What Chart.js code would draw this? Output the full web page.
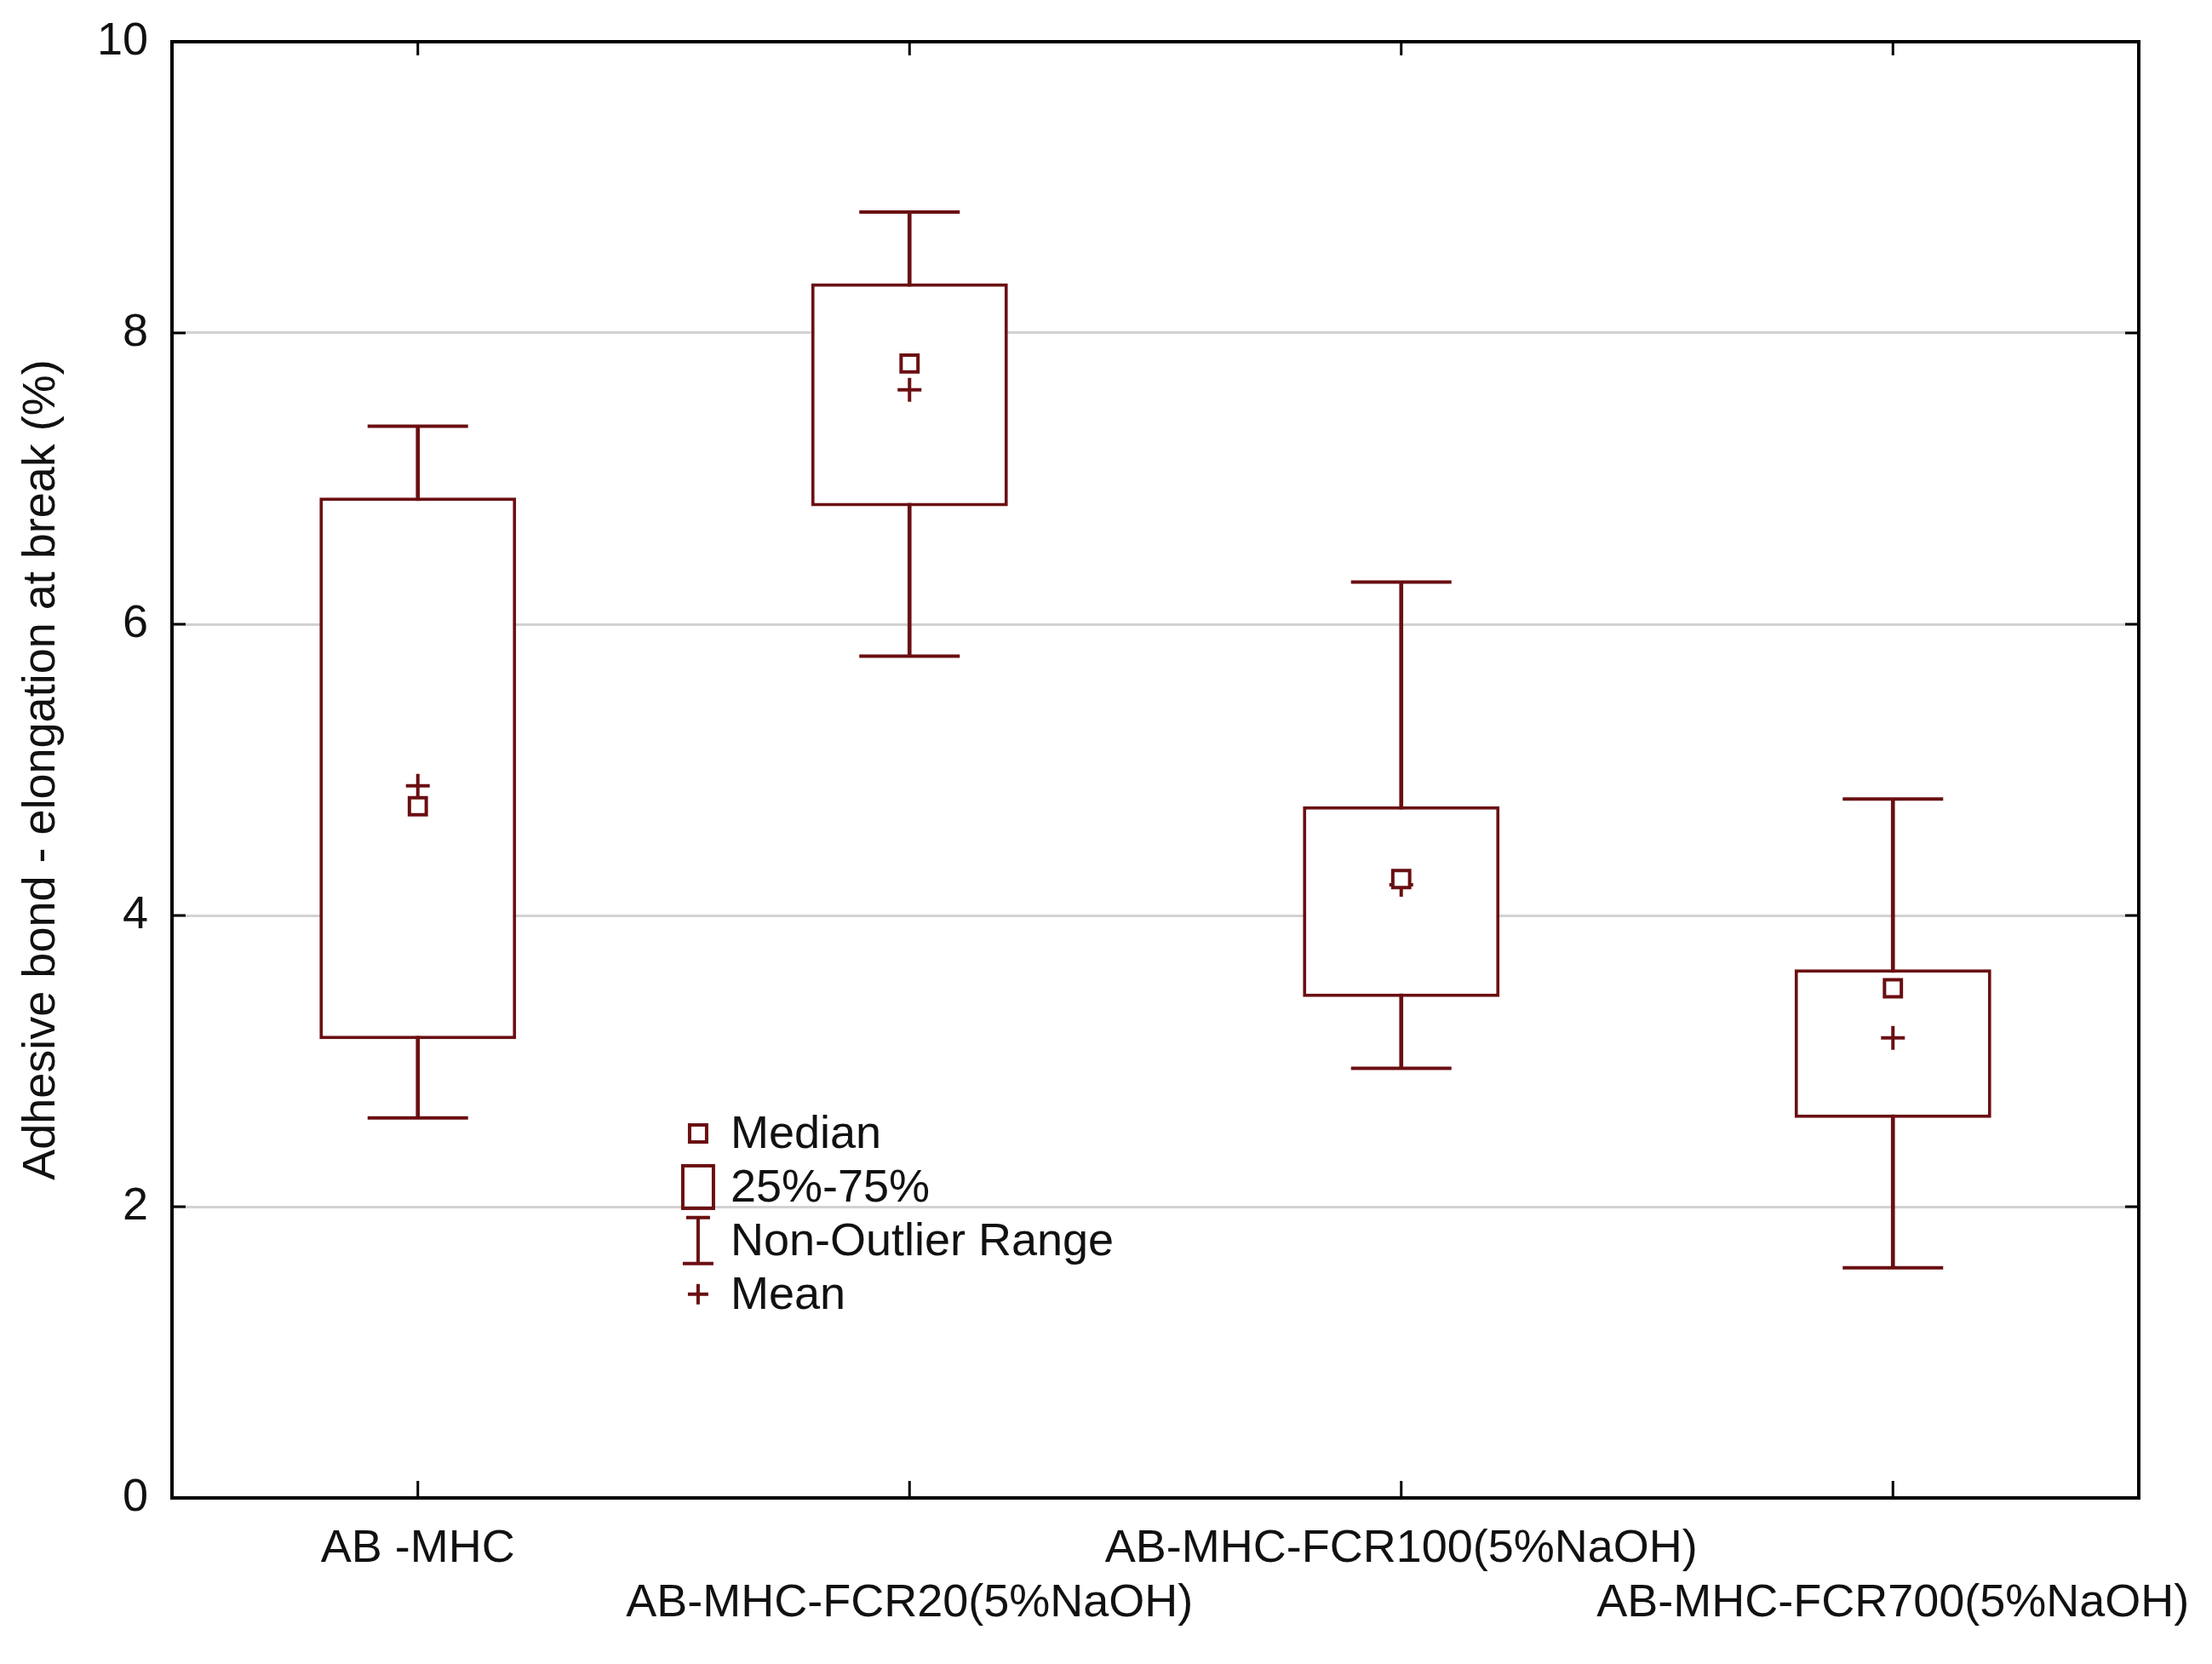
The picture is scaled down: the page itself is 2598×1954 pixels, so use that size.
<!DOCTYPE html>
<html>
<head>
<meta charset="utf-8">
<script src="https://cdn.jsdelivr.net/npm/chart.js@4"></script>
<style>
  body { margin: 0; background: #fff; }
  canvas { display: block; }
</style>
</head>
<body>
<canvas id="boxChart" width="2598" height="1954"></canvas>
<script>
const categories = ["AB -MHC", "AB-MHC-FCR20(5%NaOH)", "AB-MHC-FCR100(5%NaOH)", "AB-MHC-FCR700(5%NaOH)"];
const whiskerMin = [2.61, 5.78, 2.95, 1.58];
const q1 = [3.15, 6.81, 3.44, 2.61];
const q3 = [6.87, 8.34, 4.75, 3.63];
const whiskerMax = [7.36, 8.83, 6.29, 4.80];
const medians = [4.75, 7.79, 4.25, 3.50];
const means = [4.89, 7.61, 4.21, 3.16];
const yMin = 0, yMax = 10, yStep = 2;
const legendItems = ["Median", "25%-75%", "Non-Outlier Range", "Mean"];

const maroon = "#6a0f12";
const fontFamily = "'Liberation Sans', Arial, sans-serif";
const textColor = "#111";

// frame, inward ticks and the little legend inside the plot
const framePlugin = {
    id: "frame",
    beforeDraw(chart) {
        const ctx = chart.ctx;
        ctx.save();
        ctx.fillStyle = "#fff";
        ctx.fillRect(0, 0, chart.width, chart.height);
        ctx.restore();
    },
    afterDraw(chart) {
        const ctx = chart.ctx;
        const a = chart.chartArea;
        const xs = chart.scales.x, ys = chart.scales.y;
        ctx.save();
        ctx.strokeStyle = "#000";
        ctx.lineWidth = 3;
        ys.ticks.forEach(t => {
            const y = ys.getPixelForValue(t.value);
            ctx.beginPath();
            ctx.moveTo(a.left, y); ctx.lineTo(a.left + 16, y);
            ctx.moveTo(a.right, y); ctx.lineTo(a.right - 16, y);
            ctx.stroke();
        });
        categories.forEach((c, i) => {
            const x = xs.getPixelForValue(i);
            ctx.beginPath();
            ctx.moveTo(x, a.bottom); ctx.lineTo(x, a.bottom - 20);
            ctx.moveTo(x, a.top); ctx.lineTo(x, a.top + 16);
            ctx.stroke();
        });
        ctx.lineWidth = 4;
        ctx.strokeRect(a.left, a.top, a.right - a.left, a.bottom - a.top);

        // legend
        const w = a.right - a.left, h = a.bottom - a.top;
        const lx = a.left + 0.2675 * w;
        const y0 = a.top + 0.7497 * h;
        const gap = 0.0368 * h;
        ctx.strokeStyle = maroon;
        ctx.lineWidth = 4;
        let y = y0;
        ctx.strokeRect(lx - 10, y - 10, 20, 20);
        y = y0 + gap;
        ctx.strokeRect(lx - 18, y - 25, 36, 50);
        y = y0 + 2 * gap;
        ctx.beginPath();
        ctx.moveTo(lx, y - 27); ctx.lineTo(lx, y + 27);
        ctx.moveTo(lx - 14, y - 27); ctx.lineTo(lx + 14, y - 27);
        ctx.moveTo(lx - 18, y + 27); ctx.lineTo(lx + 18, y + 27);
        ctx.stroke();
        y = y0 + 3 * gap;
        ctx.beginPath();
        ctx.moveTo(lx - 12, y); ctx.lineTo(lx + 12, y);
        ctx.moveTo(lx, y - 12); ctx.lineTo(lx, y + 12);
        ctx.stroke();

        ctx.fillStyle = textColor;
        ctx.font = "54px " + fontFamily;
        ctx.textAlign = "left";
        ctx.textBaseline = "middle";
        legendItems.forEach((txt, i) => {
            ctx.fillText(txt, lx + 38, y0 + i * gap + 2);
        });
        ctx.restore();
    }
};

function renderChart() {
    const ctx = document.getElementById("boxChart").getContext("2d");
    const labels = categories.map((c, i) => i % 2 ? ["", c] : c);
    new Chart(ctx, {
        type: "bar",
        data: {
            labels: labels,
            datasets: [
                {
                    type: "line", label: "Median", data: medians, order: 0,
                    showLine: false, pointStyle: "rect", pointRadius: 14, pointHoverRadius: 14,
                    pointBorderWidth: 4, pointBorderColor: maroon, pointBackgroundColor: "#fff"
                },
                {
                    type: "line", label: "Mean", data: means, order: 0,
                    showLine: false, pointStyle: "cross", pointRadius: 14, pointHoverRadius: 14,
                    pointBorderWidth: 4, pointBorderColor: maroon
                },
                {
                    type: "line", label: "Max", data: whiskerMax, order: 0,
                    showLine: false, pointStyle: "line", pointRadius: 59, pointHoverRadius: 59,
                    pointBorderWidth: 4, pointBorderColor: maroon
                },
                {
                    type: "line", label: "Min", data: whiskerMin, order: 0,
                    showLine: false, pointStyle: "line", pointRadius: 59, pointHoverRadius: 59,
                    pointBorderWidth: 4, pointBorderColor: maroon
                },
                {
                    label: "25%-75%", order: 1, grouped: false,
                    data: categories.map((c, i) => [q1[i], q3[i]]),
                    backgroundColor: "#fff", borderColor: maroon, borderWidth: 4, borderSkipped: false,
                    barPercentage: 0.4, categoryPercentage: 1
                },
                {
                    label: "Non-Outlier Range", order: 2, grouped: false,
                    data: categories.map((c, i) => [whiskerMin[i], whiskerMax[i]]),
                    backgroundColor: maroon, borderWidth: 0, barThickness: 4
                }
            ]
        },
        options: {
            responsive: false,
            devicePixelRatio: 1,
            animation: false,
            events: [],
            layout: { autoPadding: false, padding: { left: 0, top: 49, right: 86, bottom: 0 } },
            plugins: { legend: { display: false }, tooltip: { enabled: false } },
            scales: {
                x: {
                    offset: true,
                    grid: { display: false, drawTicks: false },
                    border: { display: false },
                    ticks: {
                        padding: 29, autoSkip: false, maxRotation: 0, color: textColor,
                        font: { family: fontFamily, size: 54, lineHeight: 1.17 }
                    },
                    afterFit(s) { s.height = 195; s.paddingLeft = 0; s.paddingRight = 0; }
                },
                y: {
                    min: yMin, max: yMax,
                    grid: {
                        drawTicks: false, lineWidth: 3,
                        color: c => (c.tick && (c.tick.value === yMin || c.tick.value === yMax)) ? "rgba(0,0,0,0)" : "#d2d2d2"
                    },
                    border: { display: false },
                    ticks: {
                        stepSize: yStep, padding: 28, color: textColor,
                        font: { family: fontFamily, size: 54 }
                    },
                    title: {
                        display: true, text: "Adhesive bond - elongation at break (%)", color: textColor,
                        font: { family: fontFamily, size: 54 }, padding: { top: 17, bottom: 0 }
                    },
                    afterFit(s) { s.width = 202; s.paddingTop = 0; s.paddingBottom = 0; }
                }
            }
        },
        plugins: [framePlugin]
    });
}

document.addEventListener("DOMContentLoaded", function() {
    renderChart();
});
</script>
</body>
</html>
